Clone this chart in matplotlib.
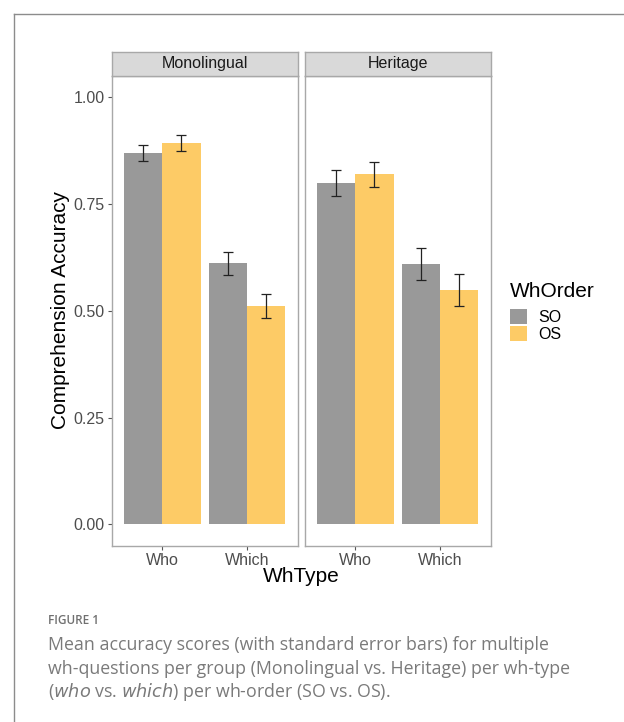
import numpy as np
import matplotlib.pyplot as plt
from matplotlib.patches import Patch
from matplotlib.lines import Line2D

plt.rcParams['font.family'] = ['Liberation Sans', 'DejaVu Sans']

groups = ['Monolingual', 'Heritage']
wh_types = ['Who', 'Which']
wh_orders = ['SO', 'OS']

# mean accuracy [group][wh-type], one list per order
so_means = [[0.870, 0.611], [0.799, 0.610]]
os_means = [[0.893, 0.511], [0.820, 0.549]]
so_se = [[0.019, 0.027], [0.030, 0.037]]
os_se = [[0.018, 0.028], [0.029, 0.037]]

colors = {'SO': '#999999', 'OS': '#FDCB66'}
yticks = [0.00, 0.25, 0.50, 0.75, 1.00]

W, H = 624, 722
fig = plt.figure(figsize=(W / 100, H / 100), dpi=100)


def px_box(x0, y0, x1, y1):
    return [x0 / W, 1 - y1 / H, (x1 - x0) / W, (y1 - y0) / H]


border = '#A8A8A8'
panels = [(111.5, 298), (304.5, 491)]
x = np.arange(1, len(wh_types) + 1)
w = 0.45

for g, (x0, x1) in enumerate(panels):
    ax = fig.add_axes(px_box(x0, 75.5, x1, 546))
    for k, (order, means, ses) in enumerate([('SO', so_means, so_se), ('OS', os_means, os_se)]):
        pos = x + (k - 0.5) * w
        ax.bar(pos, means[g], width=w, color=colors[order], linewidth=0)
        ax.errorbar(pos, means[g], yerr=ses[g], fmt='none', ecolor='#222222',
                    elinewidth=0.9, capsize=3.4, capthick=0.9)
    ax.set_xlim(0.4, 2.6)
    ax.set_ylim(-0.051, 1.0515)
    ax.set_xticks(x)
    ax.set_xticklabels(wh_types, fontsize=11.5, color='#4D4D4D')
    ax.set_yticks(yticks)
    if g == 0:
        ax.set_yticklabels([f'{v:.2f}' for v in yticks], fontsize=11.5, color='#4D4D4D')
    else:
        ax.tick_params(axis='y', left=False, labelleft=False)
    ax.tick_params(length=3, width=0.8, color='#555555', pad=2)
    for s in ax.spines.values():
        s.set_color(border)
        s.set_linewidth(1.0)

    # facet strip
    st = fig.add_axes(px_box(x0, 51.5, x1, 75.5))
    st.set_facecolor('#D9D9D9')
    st.set_xticks([])
    st.set_yticks([])
    for s in st.spines.values():
        s.set_color(border)
        s.set_linewidth(1.0)
    st.text(0.5, 0.5, groups[g], ha='center', va='center', fontsize=11.5,
            color='#1A1A1A', transform=st.transAxes)

fig.text(60 / W, 1 - 310 / H, 'Comprehension Accuracy', rotation=90,
         ha='center', va='center', fontsize=15, color='black')
fig.text(301 / W, 1 - 577 / H, 'WhType', ha='center', va='center',
         fontsize=15, color='black')

handles = [Patch(facecolor=colors[o], edgecolor='none') for o in wh_orders]
leg = fig.legend(handles, wh_orders, title='WhOrder', loc='upper left',
                 bbox_to_anchor=(496 / W, 1 - 268 / H), frameon=False,
                 fontsize=11.5, title_fontsize=15, handlelength=1.05,
                 handleheight=1.05, handletextpad=0.7, labelspacing=0.1)
leg._legend_box.align = 'left'
leg._legend_box.sep = 5.5

# outer frame of the figure block
fig.add_artist(Line2D([14 / W, 1], [1 - 13.5 / H, 1 - 13.5 / H], color='#8C8C8C', lw=1.0))
fig.add_artist(Line2D([14 / W, 14 / W], [1 - 13.5 / H, 0], color='#8C8C8C', lw=1.0))

cap_font = ['Open Sans', 'DejaVu Sans']
fig.text(48.5 / W, 1 - 621 / H, 'FIGURE 1', ha='left', va='center', fontsize=8.5,
         color='#707070', family=cap_font, fontweight='semibold')
caption = [
    'Mean accuracy scores (with standard error bars) for multiple',
    'wh-questions per group (Monolingual vs. Heritage) per wh-type',
    r'($\it{who}$ vs. $\it{which}$) per wh-order (SO vs. OS).',
]
for i, line in enumerate(caption):
    fig.text(48.5 / W, 1 - (645 + 23.7 * i) / H, line, ha='left', va='center',
             fontsize=12.8, color='#7A7A7A', family=cap_font)

fig.savefig('out.png', dpi=100)
